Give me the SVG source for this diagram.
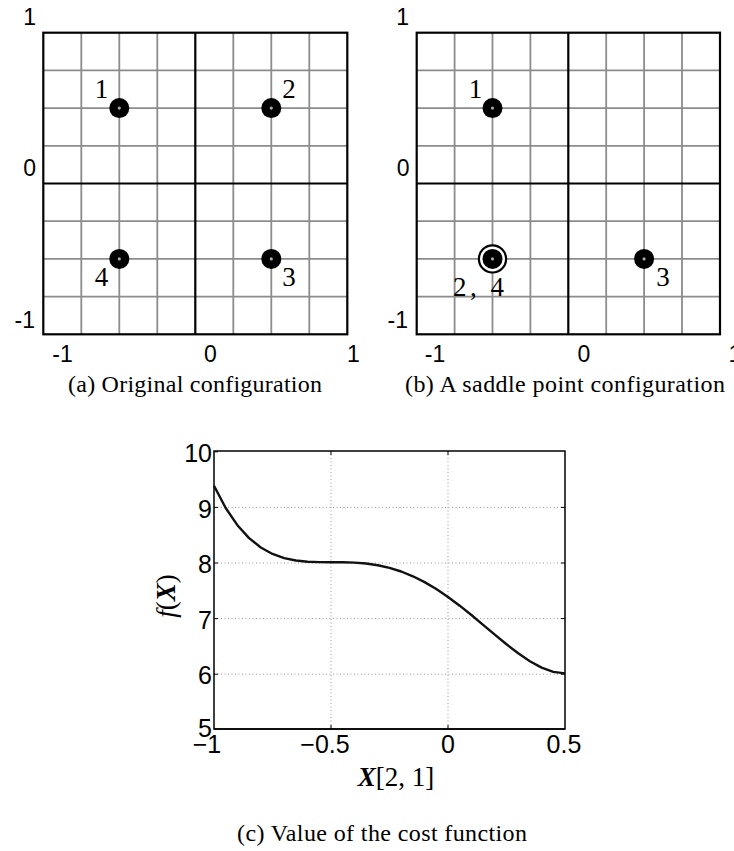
<svg xmlns="http://www.w3.org/2000/svg" xmlns:xlink="http://www.w3.org/1999/xlink" width="734" height="851" viewBox="0 0 734 851">
<style>
  .grid { stroke: #8c8c8c; stroke-width: 1.8; fill: none; }
  .major { stroke: #000; stroke-width: 2.2; fill: none; }
  .tick { font-family: "Liberation Sans", Arial, sans-serif; font-size: 23px; fill: #000; }
  .ptick { font-family: "Liberation Sans", Arial, sans-serif; font-size: 25px; fill: #000; }
  .lab { font-family: "Liberation Serif", "Times New Roman", serif; font-size: 27px; fill: #000; }
  .cap { font-family: "Liberation Serif", "Times New Roman", serif; font-size: 24px; fill: #000; }
  .pgrid { stroke: #9a9a9a; stroke-width: 1; stroke-dasharray: 1 2.5; fill: none; }
  .axes { stroke: #000; stroke-width: 1.5; fill: none; }
  .curve { stroke: #111; stroke-width: 2.4; fill: none; stroke-linejoin: round; }
</style>
<defs>
  <g id="dot">
    <circle cx="0" cy="0" r="10" fill="#000"/>
    <circle cx="0" cy="0" r="1.6" fill="#aaa"/>
  </g>
</defs>

<!-- Panel (a) -->
<g id="panel-a">
  <path class="grid" d="M81.3 32.7V334.3M119.3 32.7V334.3M157.3 32.7V334.3M233.3 32.7V334.3M271.3 32.7V334.3M309.3 32.7V334.3M43.3 70.4H347.3M43.3 108.1H347.3M43.3 145.8H347.3M43.3 221.2H347.3M43.3 258.9H347.3M43.3 296.6H347.3"/>
  <path class="major" d="M195.3 32.7V334.3M43.3 183.5H347.3"/>
  <rect class="major" x="43.3" y="32.7" width="304" height="301.6"/>
  <text class="tick" x="36" y="25" text-anchor="end">1</text>
  <text class="tick" x="36" y="176" text-anchor="end">0</text>
  <text class="tick" x="35" y="328" text-anchor="end">-1</text>
  <text class="tick" x="62.5" y="362" text-anchor="middle">-1</text>
  <text class="tick" x="210.5" y="362" text-anchor="middle">0</text>
  <text class="tick" x="353.3" y="362" text-anchor="middle">1</text>
  <g id="a-p1"><use xlink:href="#dot" x="119.3" y="108.1"/><text class="lab" x="101.5" y="97.7" text-anchor="middle">1</text></g>
  <g id="a-p2"><use xlink:href="#dot" x="271.3" y="108.1"/><text class="lab" x="289" y="97.7" text-anchor="middle">2</text></g>
  <g id="a-p3"><use xlink:href="#dot" x="271.3" y="258.9"/><text class="lab" x="289" y="286" text-anchor="middle">3</text></g>
  <g id="a-p4"><use xlink:href="#dot" x="119.3" y="258.9"/><text class="lab" x="101.5" y="286" text-anchor="middle">4</text></g>
  <text class="cap" x="68" y="392" textLength="254" lengthAdjust="spacing">(a) Original configuration</text>
</g>

<!-- Panel (b) -->
<g id="panel-b">
  <path class="grid" d="M454.6 32.7V334.3M492.5 32.7V334.3M530.4 32.7V334.3M606.2 32.7V334.3M644.1 32.7V334.3M682 32.7V334.3M416.7 70.4H720M416.7 108.1H720M416.7 145.8H720M416.7 221.2H720M416.7 258.9H720M416.7 296.6H720"/>
  <path class="major" d="M568.3 32.7V334.3M416.7 183.5H720"/>
  <rect class="major" x="416.7" y="32.7" width="303.3" height="301.6"/>
  <text class="tick" x="409" y="25" text-anchor="end">1</text>
  <text class="tick" x="409.5" y="176" text-anchor="end">0</text>
  <text class="tick" x="408" y="328" text-anchor="end">-1</text>
  <text class="tick" x="435" y="362" text-anchor="middle">-1</text>
  <text class="tick" x="584" y="362" text-anchor="middle">0</text>
  <text class="tick" x="728.5" y="362">1</text>
  <g id="b-p1"><use xlink:href="#dot" x="492.5" y="108.1"/><text class="lab" x="475.5" y="97.7" text-anchor="middle">1</text></g>
  <g id="b-p24">
    <circle cx="492.5" cy="258.9" r="13.6" fill="#fff" stroke="#000" stroke-width="2.2"/>
    <use xlink:href="#dot" x="492.5" y="258.9"/>
    <text class="lab" x="453" y="296" textLength="51" lengthAdjust="spacing">2, 4</text>
  </g>
  <g id="b-p3"><use xlink:href="#dot" x="644.1" y="258.9"/><text class="lab" x="663" y="286" text-anchor="middle">3</text></g>
  <text class="cap" x="405" y="392" textLength="320" lengthAdjust="spacing">(b) A saddle point configuration</text>
</g>

<!-- Panel (c) -->
<g id="panel-c">
  <path class="pgrid" d="M331 451V729M448 451V729M214 507.4H565M214 563H565M214 618.6H565M214 674.2H565"/>
  <rect class="axes" x="214" y="451" width="351" height="278"/>
  <path class="axes" d="M214 729H565"/>
  <path stroke="#000" stroke-width="1" d="M214 451.8h4M214 507.4h4M214 563h4M214 618.6h4M214 674.2h4M565 507.4h-4M565 563h-4M565 618.6h-4M565 674.2h-4M331 729v-4M448 729v-4M331 451v4M448 451v4"/>
  <path class="curve" d="M214 485.75 L225.7 507.99 L237.4 525.19 L249.1 538.13 L260.8 547.49 L272.5 553.95 L284.2 558.11 L295.9 560.53 L307.6 561.72 L319.3 562.14 L331 562.2 L342.7 562.26 L354.4 562.61 L366.1 563.53 L377.8 565.22 L389.5 567.85 L401.2 571.51 L412.9 576.27 L424.6 582.13 L436.3 589.05 L448 596.95 L459.7 605.68 L471.4 615.04 L483.1 624.81 L494.8 634.67 L506.5 644.3 L518.2 653.3 L529.9 661.22 L541.6 667.58 L553.3 671.84 L565 673.4"/>
  <text class="ptick" x="212" y="462" text-anchor="end">10</text>
  <text class="ptick" x="212" y="517.5" text-anchor="end">9</text>
  <text class="ptick" x="212" y="573" text-anchor="end">8</text>
  <text class="ptick" x="212" y="628.6" text-anchor="end">7</text>
  <text class="ptick" x="212" y="684" text-anchor="end">6</text>
  <text class="ptick" x="212" y="737" text-anchor="end">5</text>
  <text class="ptick" x="207" y="753" text-anchor="middle">−1</text>
  <text class="ptick" x="325" y="753" text-anchor="middle">−0.5</text>
  <text class="ptick" x="448" y="753" text-anchor="middle">0</text>
  <text class="ptick" x="564" y="753" text-anchor="middle">0.5</text>
  <text class="lab" x="396" y="786" text-anchor="middle" font-size="24"><tspan font-weight="bold" font-style="italic">X</tspan>[2, 1]</text>
  <text class="lab" transform="translate(175,596) rotate(-90)" text-anchor="middle" font-size="24"><tspan font-style="italic">f</tspan>(<tspan font-weight="bold" font-style="italic">X</tspan>)</text>
  <text class="cap" x="237" y="841" textLength="290" lengthAdjust="spacing">(c) Value of the cost function</text>
</g>
</svg>
